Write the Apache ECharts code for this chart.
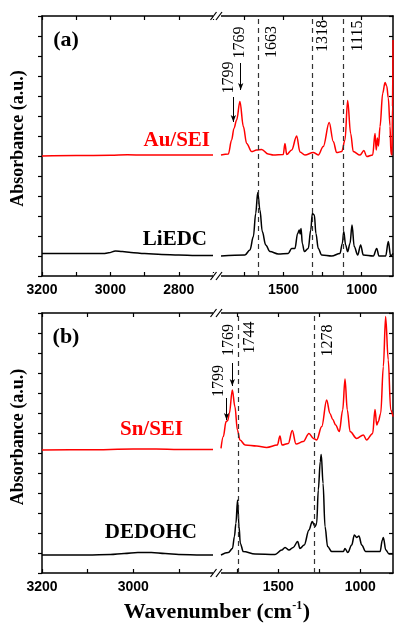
<!DOCTYPE html>
<html><head><meta charset="utf-8">
<script src="https://cdn.jsdelivr.net/npm/echarts@6/dist/echarts.min.js"></script>
<style>html,body{margin:0;padding:0;background:#fff}#c{width:394px;height:623px}</style>
</head><body><div id="c"></div>
<script>
// ---------- DATA ----------
// Panel (a)
const auSeiLeft = [[3200,6.0],[3100,6.02],[3000,6.04],[2950,6.06],[2900,6.05],[2800,6.05],[2700,6.05]];
const auSeiRight = [[1900,6.05],[1853,6.1],[1832,6.8],[1817,7.38],[1800,7.8],[1779,8.72],[1757,7.47],[1736,6.63],[1704,6.22],[1672,6.3],[1640,6.33],[1598,6.1],[1566,6.05],[1502,6.07],[1491,6.63],[1480,6.08],[1448,6.3],[1416,7.0],[1395,6.2],[1363,6.05],[1310,6.18],[1278,6.05],[1246,6.47],[1208,7.67],[1182,6.73],[1160,6.17],[1128,6.22],[1107,6.8],[1090,8.77],[1071,7.13],[1054,6.22],[1011,6.05],[986,6.27],[968,5.97],[930,6.05],[915,7.13],[907,6.3],[900,6.9],[893,6.5],[883,7.47],[866,9.13],[851,9.67],[840,9.5],[830,8.9],[819,7.5],[813,6.1],[806,6.05],[803,8.5],[800,11.8]];
const liedcLeft = [[3200,1.13],[3100,1.12],[3020,1.12],[3005,1.16],[2985,1.25],[2965,1.22],[2940,1.18],[2900,1.12],[2850,1.08],[2800,1.05],[2750,1.03],[2700,1.02]];
const liedcRight = [[1900,1.0],[1747,1.05],[1715,1.3],[1693,1.97],[1678,3.13],[1665,4.18],[1651,3.3],[1636,2.22],[1614,1.55],[1587,1.22],[1534,1.1],[1470,1.13],[1448,1.38],[1427,1.38],[1410,2.13],[1399,2.3],[1394,2.1],[1388,2.38],[1380,1.63],[1367,1.22],[1342,1.38],[1326,2.3],[1316,3.13],[1303,3.05],[1293,2.13],[1278,1.38],[1256,1.05],[1192,1.0],[1139,1.13],[1124,1.63],[1115,2.22],[1103,1.55],[1090,1.22],[1075,1.63],[1062,2.55],[1048,1.47],[1026,1.05],[1007,1.55],[990,1.05],[926,1.0],[904,1.38],[890,1.0],[847,1.0],[830,1.72],[815,1.0],[800,1.13]];
// Panel (b)
const snSeiLeft = [[3200,6.15],[3100,6.16],[3000,6.2],[2950,6.2],[2900,6.18],[2825,6.18]];
const snSeiRight = [[1850,6.23],[1836,6.82],[1819,7.57],[1809,7.62],[1799,7.98],[1781,9.15],[1765,8.32],[1750,7.15],[1734,6.65],[1703,6.4],[1632,6.35],[1571,6.28],[1506,6.4],[1490,6.85],[1478,6.4],[1439,6.48],[1415,7.12],[1392,6.45],[1348,6.57],[1313,6.98],[1286,6.73],[1266,6.65],[1235,7.32],[1205,8.65],[1185,7.98],[1168,7.68],[1150,7.4],[1128,7.07],[1107,8.15],[1093,9.7],[1079,8.15],[1062,7.07],[1022,6.73],[981,6.9],[961,6.65],[924,6.98],[910,8.18],[899,7.4],[890,7.57],[875,7.98],[859,10.32],[845,12.82],[829,10.65],[814,8.15],[800,7.82]];
const dedohcLeft = [[3200,0.9],[3100,0.9],[3050,0.93],[3020,0.98],[2990,1.03],[2960,1.02],[2930,0.97],[2900,0.93],[2850,0.9],[2825,0.9]];
const dedohcRight = [[1850,0.9],[1805,1.02],[1780,1.23],[1768,1.82],[1759,2.48],[1749,3.65],[1740,2.32],[1732,1.48],[1714,1.07],[1642,0.95],[1520,0.93],[1479,1.15],[1459,1.28],[1435,1.15],[1409,1.28],[1382,1.57],[1368,1.23],[1342,1.4],[1313,2.15],[1293,2.57],[1276,2.32],[1266,2.48],[1256,4.15],[1244,5.57],[1238,5.93],[1227,4.48],[1215,2.32],[1199,1.32],[1174,1.07],[1103,1.07],[1093,1.23],[1076,1.02],[1052,1.4],[1036,1.9],[1022,1.78],[1008,1.85],[991,1.4],[967,1.07],[879,1.07],[865,1.65],[859,1.78],[844,1.15],[824,0.95],[800,0.95]];
// Axis ticks / labels
const ticksLeftA = [3200,3100,3000,2900,2800,2700];
const labelsLeftA = [3200,3000,2800];
const ticksLeftB = [3200,3100,3000,2900];
const labelsLeftB = [3200,3000];
const ticksRight = [1750,1500,1250,1000];
const labelsRight = [1500,1000];
// Reference lines
const dashedA = [1663,1318,1115];
const dashedB = [1744,1278];
// Peak label texts
const peakTextsA = ['1799','1769','1663','1318','1115'];
const peakTextsB = ['1799','1769','1744','1278'];

// ---------- LAYOUT ----------
const peakPosA = [[1853,9.93],[1778,11.68],[1575,11.7],[1248,12.0],[1025,12.0]];
const peakPosB = [[1866,9.6],[1805,11.65],[1673,11.78],[1201,11.63]];
const arrowsA = [[1821,8.95,7.7],[1774,10.65,9.3]];
const arrowsB = [[1816,8.75,7.65],[1781,10.5,9.35]];

const serif = '"Liberation Serif","Times New Roman",serif';
const sans = '"Liberation Sans",Arial,sans-serif';
const grids = [
  {left:42, top:16, width:171, height:260},
  {left:221, top:16, width:172, height:260},
  {left:42, top:313, width:171, height:260},
  {left:221, top:313, width:172, height:260}
].map(g => Object.assign({outerBoundsMode:'none', containLabel:false}, g));

const axLine = {show:true, lineStyle:{color:'#000', width:1.5}};
function xAx(grid, min, max, ticks, labels, pos){
  return {
    type:'value', gridIndex:grid, min, max, inverse:true, position:pos,
    axisLine: axLine, splitLine:{show:false},
    axisTick:{show:true, inside:true, length:4, customValues:ticks, lineStyle:{color:'#000', width:1.2}},
    axisLabel: pos === 'bottom' ? {show:true, customValues:labels, formatter: v => String(v), margin:7, color:'#000', fontFamily:sans, fontWeight:'bold', fontSize:14} : {show:false}
  };
}
function yAx(grid, pos){
  return {
    type:'value', gridIndex:grid, min:0, max:13, interval:1, position:pos,
    axisLine: axLine, splitLine:{show:false}, axisLabel:{show:false},
    axisTick:{show:true, inside: pos === 'right', length:4, lineStyle:{color:'#000', width:1.2}}
  };
}
const xAxes = [
  xAx(0,2700,3200,ticksLeftA,labelsLeftA,'bottom'), xAx(0,2700,3200,ticksLeftA,labelsLeftA,'top'),
  xAx(1,800,1900,ticksRight,labelsRight,'bottom'), xAx(1,800,1900,ticksRight,labelsRight,'top'),
  xAx(2,2825,3200,ticksLeftB,labelsLeftB,'bottom'), xAx(2,2825,3200,ticksLeftB,labelsLeftB,'top'),
  xAx(3,800,1850,ticksRight,labelsRight,'bottom'), xAx(3,800,1850,ticksRight,labelsRight,'top')
];
const yAxes = [yAx(0,'left'), yAx(1,'right'), yAx(2,'left'), yAx(3,'right')];

function line(data, xi, yi, color, extra){
  return Object.assign({type:'line', data, xAxisIndex:xi, yAxisIndex:yi, showSymbol:false, symbol:'none',
    smooth:0.35, smoothMonotone:'x',
    lineStyle:{color, width:1.5}, itemStyle:{color}, silent:true, animation:false, z:3}, extra||{});
}
function dashML(vals){
  return {silent:true, symbol:'none', animation:false, label:{show:false},
    lineStyle:{color:'#333', type:[5,4], width:1.2},
    data: vals.map(v => ({xAxis:v}))};
}
function arrowML(arr){
  return {silent:true, symbol:['none','arrow'], symbolSize:[4,7], animation:false, label:{show:false},
    lineStyle:{color:'#000', type:'solid', width:1},
    data: arr.map(a => [{coord:[a[0],a[1]]},{coord:[a[0],a[2]]}])};
}

const series = [
  line(auSeiLeft,0,0,'#ff0000'),
  line(liedcLeft,0,0,'#000000'),
  line(auSeiRight,2,1,'#ff0000',{markLine:arrowML(arrowsA)}),
  line(liedcRight,2,1,'#000000',{markLine:dashML(dashedA)}),
  line(snSeiLeft,4,2,'#ff0000'),
  line(dedohcLeft,4,2,'#000000'),
  line(snSeiRight,6,3,'#ff0000',{markLine:arrowML(arrowsB)}),
  line(dedohcRight,6,3,'#000000',{markLine:dashML(dashedB)})
];

const chart = echarts.init(document.getElementById('c'), null, {renderer:'canvas', width:394, height:623});
chart.setOption({animation:false, backgroundColor:'#fff', grid:grids, xAxis:xAxes, yAxis:yAxes, series});

// ---------- ANNOTATIONS ----------
const g = [];
function txt(x, y, text, font, color, align, rot){
  g.push({type:'text', x, y, rotation: rot||0, silent:true, z:10,
    style:{text, font, fill:color, textAlign:align||'center', textVerticalAlign:'middle', align:align||'center', verticalAlign:'middle'}});
}
peakTextsA.forEach((t,i) => { const p = chart.convertToPixel({xAxisIndex:2, yAxisIndex:1}, peakPosA[i]); txt(p[0], p[1], t, '16px '+serif, '#000', 'center', Math.PI/2); });
peakTextsB.forEach((t,i) => { const p = chart.convertToPixel({xAxisIndex:6, yAxisIndex:3}, peakPosB[i]); txt(p[0], p[1], t, '16px '+serif, '#000', 'center', Math.PI/2); });

txt(66, 40, '(a)', 'bold 22px '+serif, '#000');
txt(66, 337, '(b)', 'bold 22px '+serif, '#000');
txt(210, 141, 'Au/SEI', 'bold 21px '+serif, '#ff0000', 'right');
txt(207, 240, 'LiEDC', 'bold 21px '+serif, '#000', 'right');
txt(183, 430, 'Sn/SEI', 'bold 21px '+serif, '#ff0000', 'right');
txt(197, 533, 'DEDOHC', 'bold 21px '+serif, '#000', 'right');
txt(18.5, 138.5, 'Absorbance (a.u.)', 'bold 18px '+serif, '#000', 'center', Math.PI/2);
txt(18.5, 437, 'Absorbance (a.u.)', 'bold 18px '+serif, '#000', 'center', Math.PI/2);

// x-axis title with superscript
const cv = document.createElement('canvas').getContext('2d');
const fMain = 'bold 22px '+serif, fSup = 'bold 12px '+serif;
cv.font = fMain; const w1 = cv.measureText('Wavenumber (cm').width, w3 = cv.measureText(')').width;
cv.font = fSup; const w2 = cv.measureText('-1').width;
const x0 = 216.5 - (w1+w2+w3)/2;
txt(x0, 612, 'Wavenumber (cm', fMain, '#000', 'left');
txt(x0+w1+0.5, 606, '-1', fSup, '#000', 'left');
txt(x0+w1+w2+1, 612, ')', fMain, '#000', 'left');

// axis break marks
[16, 276, 313, 573].forEach(yy => {
  g.push({type:'rect', shape:{x:213, y:yy-3, width:8, height:6}, style:{fill:'#fff'}, silent:true, z:9});
  g.push({type:'line', shape:{x1:210.5, y1:yy+4, x2:216.5, y2:yy-4}, style:{stroke:'#000', lineWidth:1.2}, silent:true, z:10});
  g.push({type:'line', shape:{x1:216, y1:yy+4, x2:222, y2:yy-4}, style:{stroke:'#000', lineWidth:1.2}, silent:true, z:10});
});
chart.setOption({graphic:g});
</script></body></html>
